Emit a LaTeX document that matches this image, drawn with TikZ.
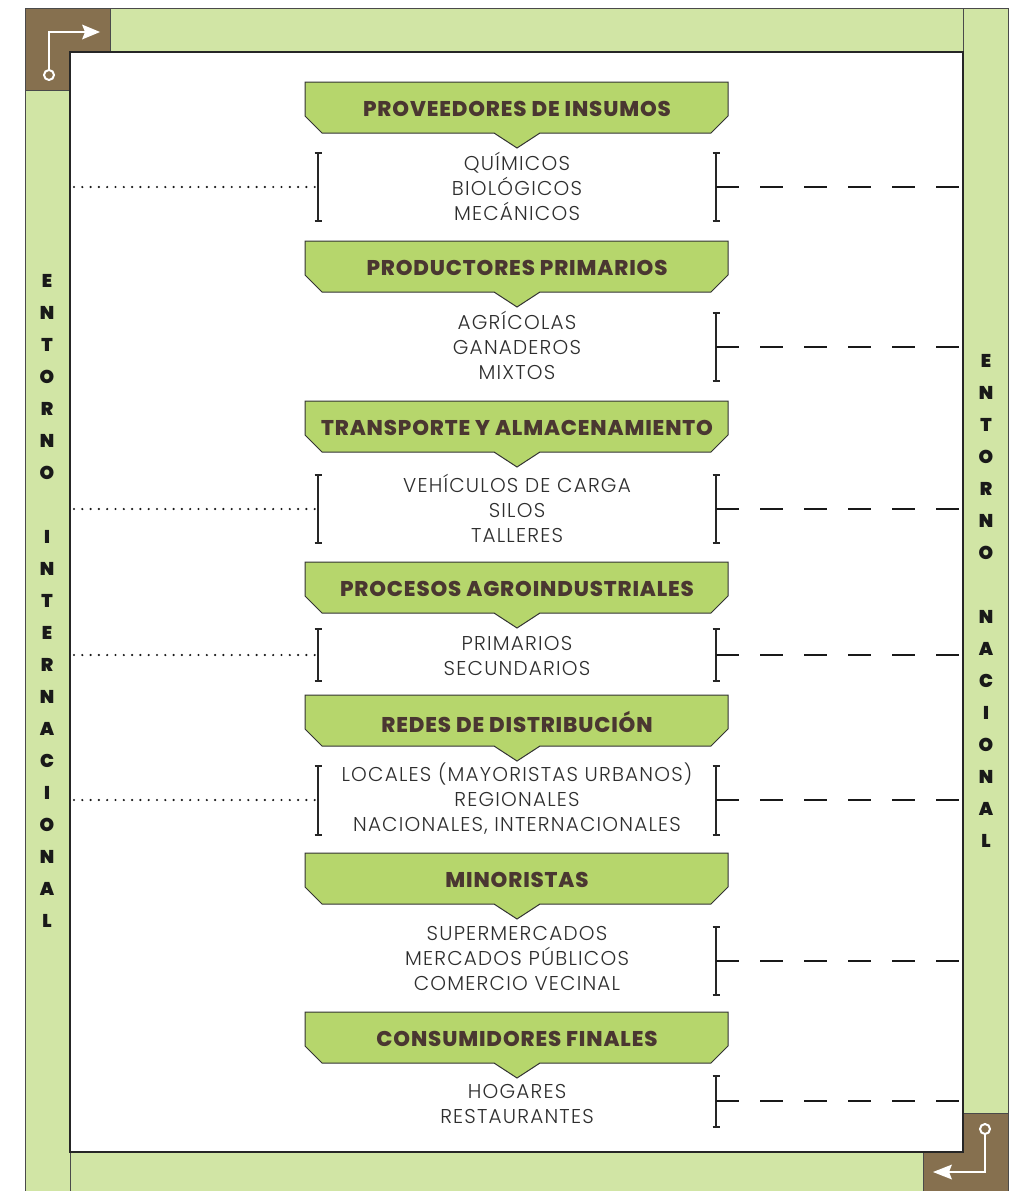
\documentclass[tikz,border=0pt]{standalone}
\usepackage{fontspec}
\setmainfont{Poppins}
\newfontfamily\lightf[LetterSpace=6]{Poppins Light}
\newfontfamily\titlef[LetterSpace=4]{Poppins ExtraBold}
\newfontfamily\sidef{Poppins Black}
\definecolor{framegreen}{HTML}{D1E5A5}
\definecolor{bannergreen}{HTML}{B6D66C}
\definecolor{brownc}{HTML}{86704F}
\definecolor{titlec}{HTML}{4A3731}
\definecolor{subc}{HTML}{2E2E2E}
\definecolor{edgec}{HTML}{4A4A4A}
\tikzset{
  barbox/.style={fill=framegreen, draw=edgec, line width=0.8pt},
  brownbox/.style={fill=brownc, draw=edgec, line width=0.8pt},
  bannershape/.style={fill=bannergreen, draw=black!80, line width=1pt},
  titletext/.style={text=titlec, font=\titlef\fontsize{21.3}{23}\selectfont, inner sep=0pt},
  subtext/.style={text=subc, font=\lightf\fontsize{20}{25}\selectfont, align=center, inner sep=0pt},
  sideletter/.style={text=black!90, font=\sidef\fontsize{18.5}{20}\selectfont, inner sep=0pt},
  bracketline/.style={draw=black!85, line width=1.1pt},
  dashline/.style={draw=black!90, line width=1.1pt, dash pattern=on 23pt off 21pt},
  dotline/.style={draw=black!90, line width=2.4pt, line cap=round, dash pattern=on 0pt off 8.3pt},
  arrowline/.style={draw=white, line width=2.2pt}
}
\begin{document}
\begin{tikzpicture}[x=1pt,y=-1pt]
\useasboundingbox (0,0) rectangle (1016,1191);
% frame bars
\path[barbox] (25,90) rectangle (70,1195);
\path[barbox] (110,8) rectangle (963,52);
\path[barbox] (963,8) rectangle (1008,1113);
\path[barbox] (70,1152) rectangle (923,1195);
\path[brownbox] (25,8) rectangle (110,90);
\path[brownbox] (923,1113) rectangle (1008,1195);
\path[fill=white, draw=black!85, line width=1.2pt] (70,52) rectangle (963,1152);
% corner arrows
\draw[arrowline] (49,70) -- (49,32) -- (86,32);
\fill[white] (82,24.5) -- (100,32) -- (82,39.5) -- (85,32) -- cycle;
\draw[white, fill=brownc, line width=2pt] (49,75) circle (5);
\draw[arrowline] (985,1134) -- (985,1172) -- (948,1172);
\fill[white] (952,1164.5) -- (933,1172) -- (952,1179.5) -- (949,1172) -- cycle;
\draw[white, fill=brownc, line width=2pt] (985,1129) circle (5);
% side letters
\foreach \l [count=\i] in {E,N,T,O,R,N,O,{},I,N,T,E,R,N,A,C,I,O,N,A,L}
  \node[sideletter] (li\i) at (47,{281+(\i-1)*32}) {\l};
\foreach \l [count=\i] in {E,N,T,O,R,N,O,{},N,A,C,I,O,N,A,L}
  \node[sideletter] (ln\i) at (986,{361+(\i-1)*32}) {\l};
% banners
\foreach \t/\txt [count=\i] in {82/PROVEEDORES DE INSUMOS,241/PRODUCTORES PRIMARIOS,401/TRANSPORTE Y ALMACENAMIENTO,562/PROCESOS AGROINDUSTRIALES,695/REDES DE DISTRIBUCIÓN,853/MINORISTAS,1012/CONSUMIDORES FINALES}{
  \path[bannershape] (305,\t) -- (728,\t) -- (728,\t+34) -- (711,\t+51) -- (540,\t+51) -- (517,\t+66) -- (494,\t+51) -- (322,\t+51) -- (305,\t+34) -- cycle;
  \node[titletext] (b\i) at (517,\t+27) {\txt};
}
% sub texts
\node[subtext] (s1) at (517,186.5) {QUÍMICOS\\BIOLÓGICOS\\MECÁNICOS};
\node[subtext] (s2) at (517,345.5) {AGRÍCOLAS\\GANADEROS\\MIXTOS};
\node[subtext] (s3) at (517,508.5) {VEHÍCULOS DE CARGA\\SILOS\\TALLERES};
\node[subtext] (s4) at (517,656) {PRIMARIOS\\SECUNDARIOS};
\node[subtext] (s5) at (517,799) {LOCALES (MAYORISTAS URBANOS)\\REGIONALES\\NACIONALES, INTERNACIONALES};
\node[subtext] (s6) at (517,958.5) {SUPERMERCADOS\\MERCADOS PÚBLICOS\\COMERCIO VECINAL};
\node[subtext] (s7) at (517,1103.5) {HOGARES\\RESTAURANTES};
% right brackets and dashed connectors
\foreach \i/\a/\b/\m in {1/153/221/187,2/313/381/347,3/475/543/509,4/629/681/655,5/766/835/800,6/927/995/961,7/1076/1127/1101}{
  \coordinate (rt\i) at (716,\a);
  \coordinate (rb\i) at (716,\b);
  \coordinate (rm\i) at (716,\m);
  \coordinate (re\i) at (963,\m);
  \draw[bracketline] (rt\i) -- (rb\i);
  \draw[bracketline] ([xshift=-3.5pt]rt\i) -- ([xshift=3.5pt]rt\i);
  \draw[bracketline] ([xshift=-3.5pt]rb\i) -- ([xshift=3.5pt]rb\i);
  \draw[dashline] (rm\i) -- (re\i);
}
% left brackets and dotted connectors
\foreach \i/\a/\b/\m in {1/153/221/187,3/475/543/509,4/629/681/655,5/766/835/800}{
  \coordinate (lt\i) at (318,\a);
  \coordinate (lb\i) at (318,\b);
  \coordinate (lm\i) at (318,\m);
  \coordinate (le\i) at (74,\m);
  \draw[bracketline] (lt\i) -- (lb\i);
  \draw[bracketline] ([xshift=-3.5pt]lt\i) -- ([xshift=3.5pt]lt\i);
  \draw[bracketline] ([xshift=-3.5pt]lb\i) -- ([xshift=3.5pt]lb\i);
  \draw[dotline] (le\i) -- (lm\i);
}
\end{tikzpicture}
\end{document}
